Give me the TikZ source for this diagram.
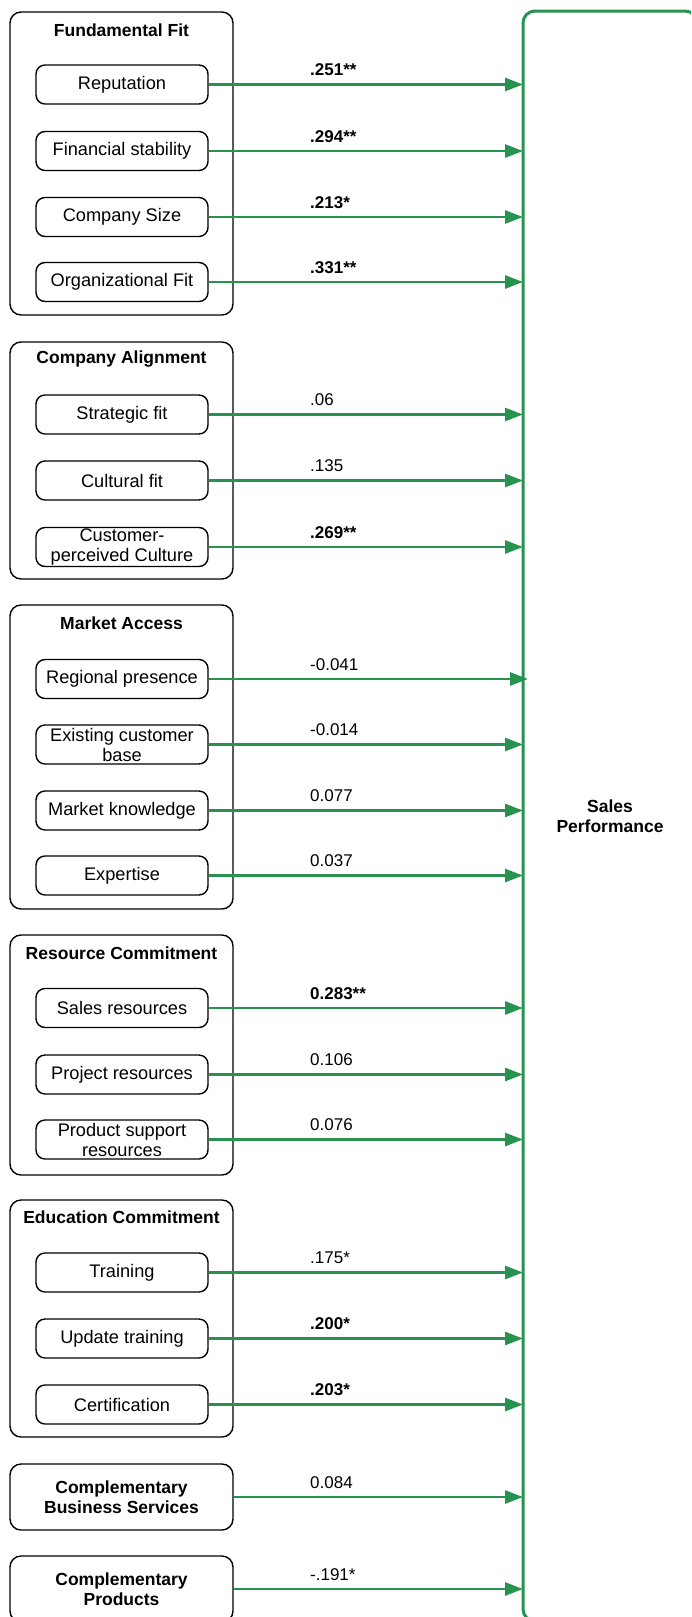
\documentclass[tikz,border=0pt]{standalone}
\usepackage{fontspec}
\setmainfont{Liberation Sans}
\usetikzlibrary{arrows.meta}
\definecolor{linkgreen}{RGB}{40,147,80}
\begin{document}
\begin{tikzpicture}[x=1pt,y=-1pt,
  txt/.style={font=\fontsize{18.2}{20}\selectfont},
  boldtxt/.style={font=\fontsize{17.5}{20}\selectfont\bfseries},
  group/.style={draw=black, line width=1.4pt, rounded corners=11pt,
    minimum width=223pt, inner sep=0pt},
  factor/.style={draw=black, line width=1.4pt, rounded corners=9pt,
    minimum width=172pt, minimum height=39pt, inner sep=0pt, align=center, txt},
  heading/.style={boldtxt, inner sep=0pt},
  link/.style={draw=linkgreen, line width=2.8pt, -{Triangle[length=18pt,width=13pt]}},
  coef/.style={font=\fontsize{17}{20}\selectfont, anchor=base west, yshift=9pt, inner sep=0pt},
  sig/.style={coef, font=\fontsize{17}{20}\selectfont\bfseries}
]
\useasboundingbox (0,0) rectangle (691,1617);
\clip (0,0) rectangle (691,1617);

% outcome box
\node[draw=linkgreen, line width=3pt, rounded corners=12pt, outer sep=0pt,
  minimum width=174pt, minimum height=1610pt, align=center, boldtxt]
  (sp) at (610,816) {Sales\\Performance};
\coordinate (lx) at (310,0);

% Fundamental Fit
\node[group, minimum height=303pt] (g1) at (121.5,163.5) {};
\node[heading] (t1) at (121.5,30) {Fundamental Fit};
\node[factor] (a1) at (122,84.5) {Reputation};
\node[factor] (a2) at (122,151) {Financial stability};
\node[factor] (a3) at (122,217) {Company Size};
\node[factor] (a4) at (122,282) {Organizational Fit};

% Company Alignment
\node[group, minimum height=237pt] (g2) at (121.5,460.5) {};
\node[heading] (t2) at (121.5,359) {Company Alignment};
\node[factor] (b1) at (122,414.5) {Strategic fit};
\node[factor] (b2) at (122,480.5) {Cultural fit};
\node[factor] (b3) at (122,547) {Customer-\\perceived Culture};

% Market Access
\node[group, minimum height=304pt] (g3) at (121.5,757) {};
\node[heading] (t3) at (121.5,623) {Market Access};
\node[factor] (c1) at (122,679) {Regional presence};
\node[factor] (c2) at (122,744.5) {Existing customer\\base};
\node[factor] (c3) at (122,810.5) {Market knowledge};
\node[factor] (c4) at (122,875.5) {Expertise};

% Resource Commitment
\node[group, minimum height=240pt] (g4) at (121.5,1055) {};
\node[heading] (t4) at (121.5,953) {Resource Commitment};
\node[factor] (d1) at (122,1008) {Sales resources};
\node[factor] (d2) at (122,1074.5) {Project resources};
\node[factor] (d3) at (122,1139.5) {Product support\\resources};

% Education Commitment
\node[group, minimum height=237pt] (g5) at (121.5,1318.5) {};
\node[heading] (t5) at (121.5,1217) {Education Commitment};
\node[factor] (e1) at (122,1272.5) {Training};
\node[factor] (e2) at (122,1338.5) {Update training};
\node[factor] (e3) at (122,1404.5) {Certification};

% stand-alone factors
\node[group, boldtxt, align=center, minimum height=66pt] (h1) at (121.5,1497) {Complementary\\Business Services};
\node[group, boldtxt, align=center, minimum height=66pt] (h2) at (121.5,1589) {Complementary\\Products};

% paths with coefficients
\foreach \n/\v/\s in {a1/.251**/sig, a2/.294**/sig, a3/.213*/sig, a4/.331**/sig,
  b1/.06/coef, b2/.135/coef, b3/.269**/sig,
  c2/-0.014/coef, c3/0.077/coef, c4/0.037/coef,
  d1/0.283**/sig, d2/0.106/coef, d3/0.076/coef,
  e1/.175*/coef, e2/.200*/sig, e3/.203*/sig,
  h1/0.084/coef, h2/-.191*/coef}{
  \draw[link] (\n.east) -- (\n.east -| sp.west);
  \path (\n.east -| lx) node[\s] {\v};
}
% this arrow overshoots the box border slightly
\coordinate (c1tip) at (528,679);
\draw[link] (c1.east) -- (c1tip);
\path (c1.east -| lx) node[coef] {-0.041};
\end{tikzpicture}
\end{document}
